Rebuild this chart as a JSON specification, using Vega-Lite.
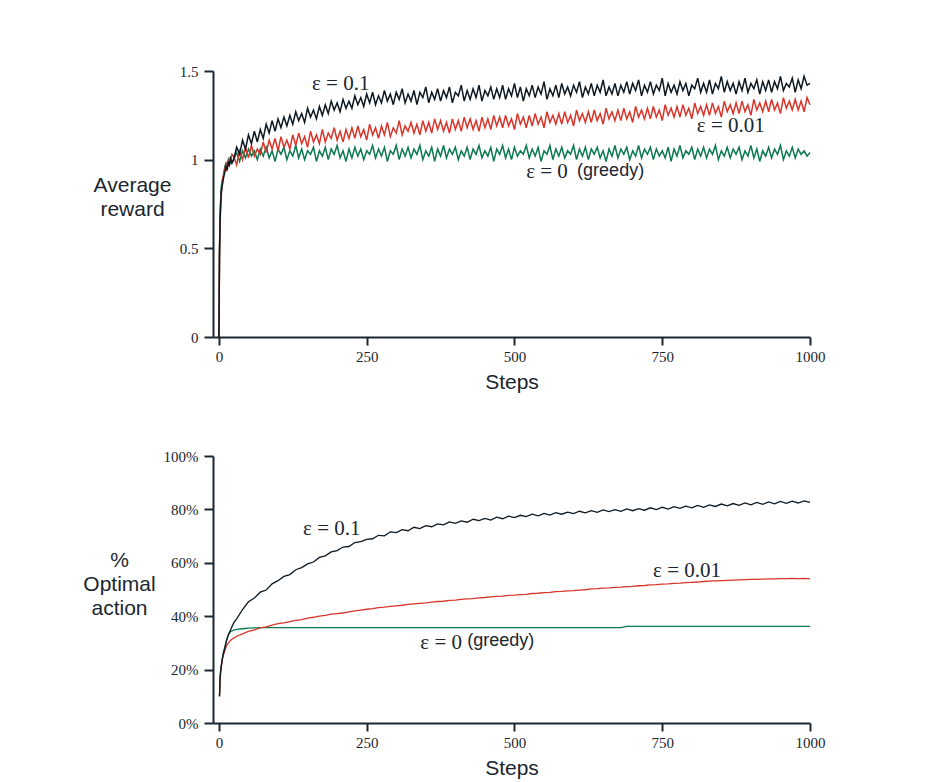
{
"$schema":"https://vega.github.io/schema/vega-lite/v6.json",
"background":"white",
"padding":{"left":82,"top":64,"right":10,"bottom":5},
"bounds":"flush",
"spacing":119,
"config":{
 "view":{"stroke":null},
 "axis":{"grid":false,"domainColor":"#1b2630","domainWidth":2,"tickColor":"#1b2630","tickWidth":2,"labelFont":"Liberation Serif","labelFontSize":15,"labelColor":"#1b2630","titleFont":"Liberation Sans","titleFontSize":21,"titleFontWeight":"normal","titleColor":"#1b2630"},
 "axisX":{"tickSize":8,"labelPadding":4,"titlePadding":7,"labelFlush":false,"format":"d"},
 "axisY":{"tickSize":9,"labelPadding":6}
},
"datasets":{
"top":[
{"x":0,"b":0,"r":0,"g":0},{"x":1,"b":0.45,"r":0.50,"g":0.48},{"x":2,"b":0.66,"r":0.63,"g":0.70},{"x":3,"b":0.74,"r":0.76,"g":0.78},{"x":4,"b":0.82,"r":0.80,"g":0.85},{"x":6,"b":0.86,"r":0.88,"g":0.89},{"x":8,"b":0.90,"r":0.92,"g":0.91},{"x":10,"b":0.93,"r":0.95,"g":0.96},{"x":12,"b":0.96,"r":0.94,"g":0.98},{"x":14,"b":0.94,"r":0.98,"g":0.97},{"x":16,"b":0.99,"r":0.97,"g":1.00},{"x":18,"b":0.97,"r":1.01,"g":0.98},{"x":20,"b":1.00,"r":0.99,"g":1.02},{"x":22,"b":0.98,"r":1.03,"g":0.99},
{"x":25,"b":1.00,"r":1.02,"g":1.00},{"x":30,"b":1.07,"r":0.97,"g":1.04},{"x":35,"b":1.03,"r":1.05,"g":0.99},{"x":40,"b":1.11,"r":1.00,"g":1.05},{"x":45,"b":1.06,"r":1.07,"g":1.01},{"x":50,"b":1.14,"r":1.01,"g":1.06},{"x":55,"b":1.09,"r":1.08,"g":1.02},{"x":60,"b":1.16,"r":1.02,"g":1.05},{"x":65,"b":1.10,"r":1.06,"g":1.00},{"x":70,"b":1.17,"r":1.03,"g":1.06},
{"x":75,"b":1.12,"r":1.10,"g":1.02},{"x":80,"b":1.20,"r":1.04,"g":1.07},{"x":85,"b":1.15,"r":1.11,"g":1.01},{"x":90,"b":1.22,"r":1.06,"g":1.05},{"x":95,"b":1.16,"r":1.12,"g":0.99},{"x":100,"b":1.23,"r":1.05,"g":1.06},{"x":105,"b":1.18,"r":1.13,"g":1.03},{"x":110,"b":1.24,"r":1.07,"g":1.07},{"x":115,"b":1.19,"r":1.11,"g":1.00},{"x":120,"b":1.25,"r":1.06,"g":1.05},
{"x":125,"b":1.20,"r":1.14,"g":1.02},{"x":130,"b":1.27,"r":1.08,"g":1.08},{"x":135,"b":1.22,"r":1.15,"g":1.01},{"x":140,"b":1.26,"r":1.09,"g":1.06},{"x":145,"b":1.21,"r":1.13,"g":1.00},{"x":150,"b":1.29,"r":1.07,"g":1.05},{"x":155,"b":1.24,"r":1.16,"g":1.03},{"x":160,"b":1.28,"r":1.10,"g":1.07},{"x":165,"b":1.23,"r":1.14,"g":0.99},{"x":170,"b":1.30,"r":1.09,"g":1.05},
{"x":175,"b":1.25,"r":1.17,"g":1.02},{"x":180,"b":1.31,"r":1.10,"g":1.07},{"x":185,"b":1.26,"r":1.15,"g":1.00},{"x":190,"b":1.33,"r":1.12,"g":1.06},{"x":195,"b":1.28,"r":1.18,"g":1.03},{"x":200,"b":1.32,"r":1.11,"g":1.08},{"x":205,"b":1.27,"r":1.16,"g":1.01},{"x":210,"b":1.34,"r":1.10,"g":1.05},{"x":215,"b":1.29,"r":1.17,"g":0.99},{"x":220,"b":1.33,"r":1.12,"g":1.06},
{"x":225,"b":1.29,"r":1.18,"g":1.01},{"x":230,"b":1.36,"r":1.12,"g":1.07},{"x":235,"b":1.31,"r":1.19,"g":1.02},{"x":240,"b":1.35,"r":1.13,"g":1.06},{"x":245,"b":1.30,"r":1.17,"g":1.00},{"x":250,"b":1.37,"r":1.11,"g":1.05},{"x":255,"b":1.32,"r":1.20,"g":1.03},{"x":260,"b":1.38,"r":1.14,"g":1.08},{"x":265,"b":1.31,"r":1.18,"g":1.01},{"x":270,"b":1.36,"r":1.12,"g":1.06},
{"x":275,"b":1.32,"r":1.19,"g":1.02},{"x":280,"b":1.39,"r":1.14,"g":1.07},{"x":285,"b":1.33,"r":1.21,"g":0.99},{"x":290,"b":1.37,"r":1.13,"g":1.05},{"x":295,"b":1.31,"r":1.18,"g":1.03},{"x":300,"b":1.38,"r":1.15,"g":1.08},{"x":305,"b":1.34,"r":1.22,"g":1.00},{"x":310,"b":1.40,"r":1.14,"g":1.06},{"x":315,"b":1.32,"r":1.19,"g":1.02},{"x":320,"b":1.37,"r":1.16,"g":1.07},
{"x":325,"b":1.33,"r":1.21,"g":1.01},{"x":330,"b":1.39,"r":1.15,"g":1.06},{"x":335,"b":1.31,"r":1.20,"g":1.03},{"x":340,"b":1.38,"r":1.14,"g":1.08},{"x":345,"b":1.35,"r":1.22,"g":1.00},{"x":350,"b":1.41,"r":1.16,"g":1.05},{"x":355,"b":1.32,"r":1.21,"g":1.02},{"x":360,"b":1.38,"r":1.15,"g":1.07},{"x":365,"b":1.34,"r":1.23,"g":0.99},{"x":370,"b":1.40,"r":1.17,"g":1.06},
{"x":375,"b":1.33,"r":1.22,"g":1.02},{"x":380,"b":1.39,"r":1.16,"g":1.08},{"x":385,"b":1.35,"r":1.21,"g":1.01},{"x":390,"b":1.41,"r":1.15,"g":1.06},{"x":395,"b":1.32,"r":1.23,"g":1.03},{"x":400,"b":1.38,"r":1.17,"g":1.07},{"x":405,"b":1.36,"r":1.22,"g":1.00},{"x":410,"b":1.42,"r":1.16,"g":1.05},{"x":415,"b":1.33,"r":1.24,"g":1.02},{"x":420,"b":1.39,"r":1.18,"g":1.07},
{"x":425,"b":1.34,"r":1.23,"g":1.00},{"x":430,"b":1.40,"r":1.17,"g":1.06},{"x":435,"b":1.35,"r":1.22,"g":1.03},{"x":440,"b":1.42,"r":1.16,"g":1.08},{"x":445,"b":1.33,"r":1.24,"g":1.01},{"x":450,"b":1.39,"r":1.18,"g":1.05},{"x":455,"b":1.36,"r":1.23,"g":1.02},{"x":460,"b":1.41,"r":1.17,"g":1.07},{"x":465,"b":1.34,"r":1.25,"g":0.99},{"x":470,"b":1.40,"r":1.19,"g":1.06},
{"x":475,"b":1.35,"r":1.24,"g":1.03},{"x":480,"b":1.42,"r":1.18,"g":1.08},{"x":485,"b":1.34,"r":1.25,"g":1.01},{"x":490,"b":1.40,"r":1.19,"g":1.06},{"x":495,"b":1.36,"r":1.23,"g":1.00},{"x":500,"b":1.43,"r":1.17,"g":1.07},{"x":505,"b":1.35,"r":1.26,"g":1.02},{"x":510,"b":1.41,"r":1.20,"g":1.05},{"x":515,"b":1.33,"r":1.24,"g":1.03},{"x":520,"b":1.40,"r":1.18,"g":1.08},
{"x":525,"b":1.36,"r":1.25,"g":1.01},{"x":530,"b":1.42,"r":1.19,"g":1.06},{"x":535,"b":1.35,"r":1.26,"g":1.02},{"x":540,"b":1.41,"r":1.20,"g":1.07},{"x":545,"b":1.37,"r":1.24,"g":0.99},{"x":550,"b":1.44,"r":1.18,"g":1.05},{"x":555,"b":1.34,"r":1.27,"g":1.03},{"x":560,"b":1.40,"r":1.21,"g":1.08},{"x":565,"b":1.36,"r":1.25,"g":1.00},{"x":570,"b":1.42,"r":1.20,"g":1.06},
{"x":575,"b":1.35,"r":1.26,"g":1.02},{"x":580,"b":1.43,"r":1.20,"g":1.07},{"x":585,"b":1.37,"r":1.27,"g":1.01},{"x":590,"b":1.41,"r":1.21,"g":1.05},{"x":595,"b":1.36,"r":1.25,"g":1.03},{"x":600,"b":1.42,"r":1.19,"g":1.08},{"x":605,"b":1.38,"r":1.28,"g":1.00},{"x":610,"b":1.44,"r":1.22,"g":1.06},{"x":615,"b":1.35,"r":1.26,"g":1.02},{"x":620,"b":1.41,"r":1.21,"g":1.07},
{"x":625,"b":1.37,"r":1.27,"g":1.00},{"x":630,"b":1.43,"r":1.21,"g":1.06},{"x":635,"b":1.36,"r":1.28,"g":1.03},{"x":640,"b":1.42,"r":1.22,"g":1.07},{"x":645,"b":1.38,"r":1.26,"g":1.01},{"x":650,"b":1.45,"r":1.20,"g":1.05},{"x":655,"b":1.36,"r":1.29,"g":0.99},{"x":660,"b":1.41,"r":1.23,"g":1.06},{"x":665,"b":1.37,"r":1.27,"g":1.02},{"x":670,"b":1.43,"r":1.22,"g":1.08},
{"x":675,"b":1.36,"r":1.28,"g":1.01},{"x":680,"b":1.42,"r":1.22,"g":1.06},{"x":685,"b":1.38,"r":1.29,"g":1.03},{"x":690,"b":1.44,"r":1.23,"g":1.07},{"x":695,"b":1.37,"r":1.27,"g":1.00},{"x":700,"b":1.43,"r":1.21,"g":1.05},{"x":705,"b":1.39,"r":1.30,"g":1.02},{"x":710,"b":1.45,"r":1.24,"g":1.08},{"x":715,"b":1.36,"r":1.28,"g":1.01},{"x":720,"b":1.42,"r":1.23,"g":1.06},
{"x":725,"b":1.38,"r":1.29,"g":1.03},{"x":730,"b":1.44,"r":1.23,"g":1.07},{"x":735,"b":1.37,"r":1.30,"g":1.00},{"x":740,"b":1.42,"r":1.24,"g":1.06},{"x":745,"b":1.39,"r":1.28,"g":1.02},{"x":750,"b":1.46,"r":1.22,"g":1.05},{"x":755,"b":1.36,"r":1.31,"g":1.01},{"x":760,"b":1.43,"r":1.25,"g":1.07},{"x":765,"b":1.38,"r":1.29,"g":0.99},{"x":770,"b":1.42,"r":1.24,"g":1.06},
{"x":775,"b":1.37,"r":1.30,"g":1.02},{"x":780,"b":1.44,"r":1.24,"g":1.08},{"x":785,"b":1.39,"r":1.31,"g":1.01},{"x":790,"b":1.43,"r":1.25,"g":1.05},{"x":795,"b":1.36,"r":1.29,"g":1.03},{"x":800,"b":1.42,"r":1.23,"g":1.07},{"x":805,"b":1.40,"r":1.32,"g":1.00},{"x":810,"b":1.46,"r":1.26,"g":1.06},{"x":815,"b":1.38,"r":1.30,"g":1.02},{"x":820,"b":1.43,"r":1.25,"g":1.07},
{"x":825,"b":1.38,"r":1.31,"g":1.01},{"x":830,"b":1.45,"r":1.25,"g":1.06},{"x":835,"b":1.37,"r":1.32,"g":1.03},{"x":840,"b":1.43,"r":1.26,"g":1.08},{"x":845,"b":1.40,"r":1.30,"g":1.00},{"x":850,"b":1.47,"r":1.24,"g":1.05},{"x":855,"b":1.38,"r":1.33,"g":1.02},{"x":860,"b":1.44,"r":1.27,"g":1.07},{"x":865,"b":1.39,"r":1.31,"g":1.01},{"x":870,"b":1.43,"r":1.26,"g":1.06},
{"x":875,"b":1.37,"r":1.32,"g":1.03},{"x":880,"b":1.44,"r":1.26,"g":1.07},{"x":885,"b":1.39,"r":1.33,"g":1.00},{"x":890,"b":1.46,"r":1.27,"g":1.05},{"x":895,"b":1.38,"r":1.31,"g":1.02},{"x":900,"b":1.43,"r":1.25,"g":1.08},{"x":905,"b":1.40,"r":1.34,"g":1.01},{"x":910,"b":1.45,"r":1.28,"g":1.06},{"x":915,"b":1.37,"r":1.32,"g":0.99},{"x":920,"b":1.44,"r":1.27,"g":1.05},
{"x":925,"b":1.39,"r":1.33,"g":1.02},{"x":930,"b":1.45,"r":1.27,"g":1.07},{"x":935,"b":1.38,"r":1.34,"g":1.01},{"x":940,"b":1.44,"r":1.28,"g":1.06},{"x":945,"b":1.40,"r":1.32,"g":1.03},{"x":950,"b":1.47,"r":1.26,"g":1.08},{"x":955,"b":1.39,"r":1.35,"g":1.00},{"x":960,"b":1.43,"r":1.29,"g":1.05},{"x":965,"b":1.41,"r":1.33,"g":1.02},{"x":970,"b":1.46,"r":1.28,"g":1.07},
{"x":975,"b":1.38,"r":1.34,"g":1.01},{"x":980,"b":1.45,"r":1.28,"g":1.06},{"x":985,"b":1.40,"r":1.33,"g":1.03},{"x":990,"b":1.47,"r":1.27,"g":1.05},{"x":995,"b":1.42,"r":1.35,"g":1.02},{"x":1000,"b":1.43,"r":1.31,"g":1.04}
],
"bot":[
{"x":1,"b":10,"r":10,"g":10},{"x":2,"b":17,"r":16,"g":17},{"x":3,"b":19.5,"r":19,"g":20},{"x":5,"b":23,"r":22.5,"g":23},{"x":7,"b":25.5,"r":25,"g":26},{"x":10,"b":28,"r":27,"g":28.5},{"x":13,"b":31,"r":29,"g":31},{"x":16,"b":33,"r":30,"g":33},{"x":20,"b":35,"r":31,"g":34.3},{"x":25,"b":37.5,"r":31.8,"g":34.8},{"x":30,"b":39,"r":32.5,"g":35.1},{"x":40,"b":42.5,"r":33.4,"g":35.3},{"x":50,"b":45.4,"r":34.3,"g":35.5},{"x":60,"b":46.8,"r":34.9,"g":35.6},{"x":70,"b":49,"r":35.6,"g":35.7},{"x":80,"b":49.8,"r":36.0,"g":35.7},{"x":90,"b":52.1,"r":36.7,"g":35.7},{"x":100,"b":53.3,"r":37.2,"g":35.7},
{"x":110,"b":54.9,"r":37.5,"g":35.7},{"x":120,"b":55.6,"r":38.0,"g":35.7},{"x":130,"b":57.4,"r":38.4,"g":35.7},{"x":140,"b":58.2,"r":38.7,"g":35.7},{"x":150,"b":59.6,"r":39.3,"g":35.7},{"x":160,"b":60.3,"r":39.6,"g":35.7},{"x":170,"b":62.0,"r":40.0,"g":35.7},{"x":180,"b":62.6,"r":40.3,"g":35.7},{"x":190,"b":64.1,"r":40.8,"g":35.7},{"x":200,"b":64.6,"r":41.0,"g":35.7},
{"x":210,"b":65.9,"r":41.2,"g":35.7},{"x":220,"b":66.1,"r":41.6,"g":35.7},{"x":230,"b":67.6,"r":42.0,"g":35.7},{"x":240,"b":67.9,"r":42.3,"g":35.7},{"x":250,"b":68.8,"r":42.6,"g":35.7},{"x":260,"b":69.0,"r":42.8,"g":35.7},{"x":270,"b":70.3,"r":43.2,"g":35.7},{"x":280,"b":70.1,"r":43.4,"g":35.7},{"x":290,"b":71.6,"r":43.7,"g":35.7},{"x":300,"b":71.3,"r":43.9,"g":35.7},
{"x":310,"b":72.4,"r":44.1,"g":35.7},{"x":320,"b":72.0,"r":44.4,"g":35.7},{"x":330,"b":73.3,"r":44.6,"g":35.7},{"x":340,"b":72.8,"r":44.8,"g":35.7},{"x":350,"b":73.9,"r":45.0,"g":35.7},{"x":360,"b":73.5,"r":45.3,"g":35.7},{"x":370,"b":74.6,"r":45.5,"g":35.7},{"x":380,"b":74.2,"r":45.6,"g":35.7},{"x":390,"b":75.3,"r":45.9,"g":35.7},{"x":400,"b":74.8,"r":46.0,"g":35.7},
{"x":410,"b":75.7,"r":46.3,"g":35.7},{"x":420,"b":75.2,"r":46.5,"g":35.7},{"x":430,"b":76.3,"r":46.6,"g":35.7},{"x":440,"b":75.8,"r":46.9,"g":35.7},{"x":450,"b":76.6,"r":47.0,"g":35.7},{"x":460,"b":76.0,"r":47.2,"g":35.7},{"x":470,"b":77.1,"r":47.4,"g":35.7},{"x":480,"b":76.5,"r":47.5,"g":35.7},{"x":490,"b":77.5,"r":47.8,"g":35.7},{"x":500,"b":76.9,"r":47.9,"g":35.7},
{"x":510,"b":77.8,"r":48.1,"g":35.7},{"x":520,"b":77.3,"r":48.2,"g":35.7},{"x":530,"b":78.2,"r":48.5,"g":35.7},{"x":540,"b":77.6,"r":48.6,"g":35.7},{"x":550,"b":78.5,"r":48.8,"g":35.7},{"x":560,"b":77.9,"r":48.9,"g":35.7},{"x":570,"b":78.8,"r":49.2,"g":35.7},{"x":580,"b":78.2,"r":49.3,"g":35.7},{"x":590,"b":79.0,"r":49.5,"g":35.7},{"x":600,"b":78.4,"r":49.6,"g":35.7},
{"x":610,"b":79.3,"r":49.8,"g":35.7},{"x":620,"b":78.7,"r":49.9,"g":35.7},{"x":630,"b":79.5,"r":50.2,"g":35.7},{"x":640,"b":78.9,"r":50.3,"g":35.7},{"x":650,"b":79.8,"r":50.5,"g":35.7},{"x":660,"b":79.2,"r":50.6,"g":35.7},{"x":670,"b":79.9,"r":50.8,"g":35.7},{"x":680,"b":79.3,"r":50.9,"g":35.7},{"x":690,"b":80.2,"r":51.1,"g":36.2},{"x":700,"b":79.5,"r":51.2,"g":36.2},
{"x":710,"b":80.3,"r":51.4,"g":36.2},{"x":720,"b":79.7,"r":51.5,"g":36.2},{"x":730,"b":80.6,"r":51.7,"g":36.2},{"x":740,"b":79.9,"r":51.8,"g":36.2},{"x":750,"b":80.8,"r":52.0,"g":36.2},{"x":760,"b":80.1,"r":52.1,"g":36.2},{"x":770,"b":81.0,"r":52.3,"g":36.2},{"x":780,"b":80.4,"r":52.4,"g":36.2},{"x":790,"b":81.2,"r":52.6,"g":36.2},{"x":800,"b":80.6,"r":52.7,"g":36.2},
{"x":810,"b":81.5,"r":52.8,"g":36.2},{"x":820,"b":80.8,"r":53.0,"g":36.2},{"x":830,"b":81.7,"r":53.1,"g":36.2},{"x":840,"b":81.1,"r":53.2,"g":36.2},{"x":850,"b":82.0,"r":53.3,"g":36.2},{"x":860,"b":81.3,"r":53.4,"g":36.2},{"x":870,"b":82.2,"r":53.5,"g":36.2},{"x":880,"b":81.5,"r":53.6,"g":36.2},{"x":890,"b":82.4,"r":53.7,"g":36.2},{"x":900,"b":81.7,"r":53.8,"g":36.2},
{"x":910,"b":82.6,"r":53.8,"g":36.2},{"x":920,"b":81.9,"r":53.9,"g":36.2},{"x":930,"b":82.8,"r":54.0,"g":36.2},{"x":940,"b":82.1,"r":54.0,"g":36.2},{"x":950,"b":83.0,"r":54.1,"g":36.2},{"x":960,"b":82.3,"r":54.1,"g":36.2},{"x":970,"b":83.1,"r":54.2,"g":36.2},{"x":980,"b":82.4,"r":54.1,"g":36.2},{"x":990,"b":83.2,"r":54.2,"g":36.2},{"x":1000,"b":82.6,"r":54.0,"g":36.2}
]
},
"vconcat":[
{
 "width":597,"height":266,
 "encoding":{
  "x":{"field":"x","type":"quantitative","scale":{"domain":[-10,1000],"nice":false,"zero":false},"axis":{"values":[0,250,500,750,1000],"title":"Steps"}},
  "y":{"field":"v","type":"quantitative","scale":{"domain":[0,1.5],"nice":false},"axis":{"values":[0,0.5,1,1.5],"format":"~g","title":["Average","reward"],"titleAngle":0,"titleAlign":"center","titleBaseline":"middle","titleX":-81,"titleY":114,"titleLineHeight":24}}
 },
 "layer":[
  {"data":{"name":"top"},"transform":[{"fold":["g"],"as":["s","v"]}],"mark":{"type":"line","color":"#0b7a4e","strokeWidth":1.5}},
  {"data":{"name":"top"},"transform":[{"fold":["r"],"as":["s","v"]}],"mark":{"type":"line","color":"#d8352b","strokeWidth":1.5}},
  {"data":{"name":"top"},"transform":[{"fold":["b"],"as":["s","v"]}],"mark":{"type":"line","color":"#0c1822","strokeWidth":1.5}},
  {"data":{"values":[{"x":206,"v":1.427,"t":"ε = 0.1"},{"x":866,"v":1.19,"t":"ε = 0.01"},{"x":555,"v":0.93,"t":"ε = 0"}]},
   "mark":{"type":"text","font":"Liberation Serif","fontSize":21,"color":"#1b2630","align":"center","baseline":"middle"},
   "encoding":{"text":{"field":"t"}}},
  {"data":{"values":[{"x":606,"v":0.936,"t":"(greedy)"}]},
   "mark":{"type":"text","font":"Liberation Sans","fontSize":18,"color":"#1b2630","align":"left","baseline":"middle"},
   "encoding":{"text":{"field":"t"}}}
 ]
},
{
 "width":597,"height":267,
 "encoding":{
  "x":{"field":"x","type":"quantitative","scale":{"domain":[-10,1000],"nice":false,"zero":false},"axis":{"values":[0,250,500,750,1000],"title":"Steps"}},
  "y":{"field":"v","type":"quantitative","scale":{"domain":[0,100],"nice":false},"axis":{"values":[0,20,40,60,80,100],"labelExpr":"datum.value + '%'","title":["%","Optimal","action"],"titleAngle":0,"titleAlign":"center","titleBaseline":"middle","titleX":-94,"titleY":104,"titleLineHeight":24}}
 },
 "layer":[
  {"data":{"name":"bot"},"transform":[{"fold":["g"],"as":["s","v"]}],"mark":{"type":"line","color":"#0b7a4e","strokeWidth":1.3}},
  {"data":{"name":"bot"},"transform":[{"fold":["r"],"as":["s","v"]}],"mark":{"type":"line","color":"#d8352b","strokeWidth":1.3}},
  {"data":{"name":"bot"},"transform":[{"fold":["b"],"as":["s","v"]}],"mark":{"type":"line","color":"#0c1822","strokeWidth":1.3}},
  {"data":{"values":[{"x":191,"v":72.7,"t":"ε = 0.1"},{"x":792,"v":56.9,"t":"ε = 0.01"},{"x":376,"v":30.0,"t":"ε = 0"}]},
   "mark":{"type":"text","font":"Liberation Serif","fontSize":21,"color":"#1b2630","align":"center","baseline":"middle"},
   "encoding":{"text":{"field":"t"}}},
  {"data":{"values":[{"x":420,"v":30.7,"t":"(greedy)"}]},
   "mark":{"type":"text","font":"Liberation Sans","fontSize":18,"color":"#1b2630","align":"left","baseline":"middle"},
   "encoding":{"text":{"field":"t"}}}
 ]
}
]
}
